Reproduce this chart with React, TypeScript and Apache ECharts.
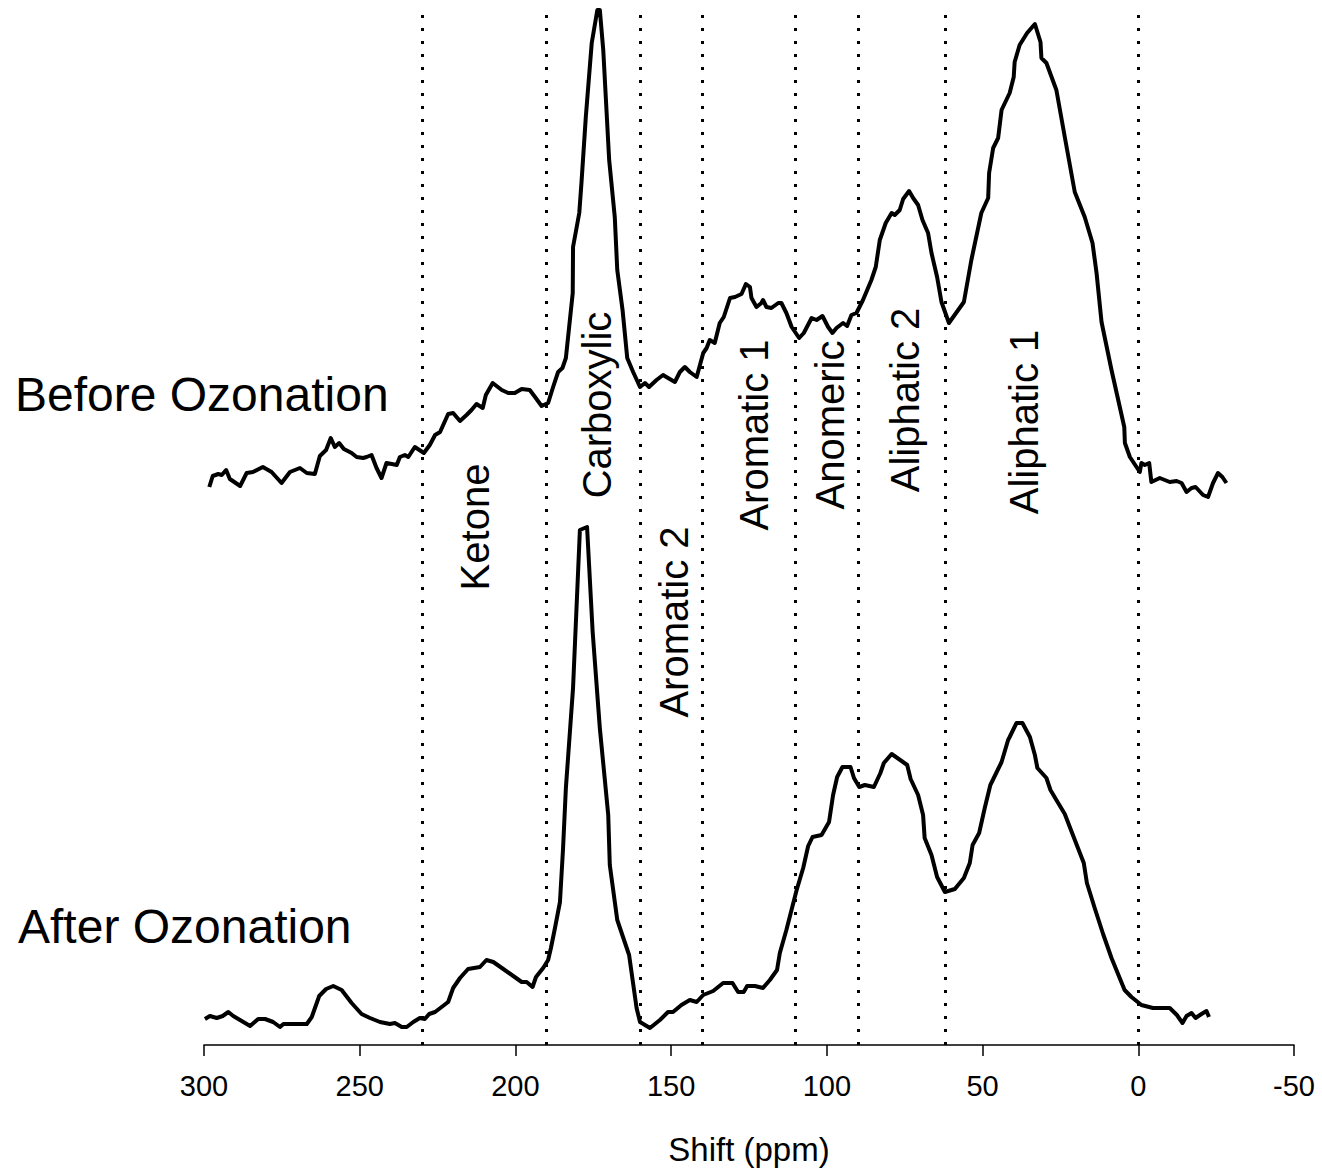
import React, { useEffect, useRef } from "react";
import * as echarts from "echarts";

// Chemical shift (ppm) and intensity (arbitrary units)
const beforeShift = [
  298.3, 297.2, 295.4, 294.3, 292.9, 291.7, 288.4, 286.3, 284.3, 281.1, 278.3, 275.1, 272.4, 269.2, 267.0, 264.4,
  262.8, 260.8, 259.3, 258.0, 256.6, 255.1, 252.6, 251.0, 248.9, 247.8, 246.2, 244.6, 243.0, 241.4, 239.7, 238.1,
  237.1, 235.5, 234.4, 232.3, 229.4, 227.5, 225.8, 224.2, 221.6, 220.0, 217.8, 215.7, 214.1, 212.5, 210.5, 209.5,
  207.3, 204.4, 202.3, 200.2, 198.0, 195.4, 193.7, 191.6, 189.5, 187.9, 186.3, 184.9, 183.8, 181.6, 181.5, 179.5,
  178.8, 177.4, 175.5, 173.7, 172.9, 171.8, 169.9, 168.1, 167.3, 165.6, 164.1, 162.2, 160.0, 158.4, 157.1, 154.7,
  152.6, 151.0, 148.8, 147.2, 145.6, 144.0, 141.8, 139.7, 138.6, 137.6, 136.0, 134.4, 133.1, 131.1, 129.5, 127.4,
  126.0, 124.7, 124.2, 122.6, 121.0, 120.5, 119.4, 117.8, 115.6, 114.6, 113.0, 111.3, 108.9, 107.4, 104.9, 103.3,
  101.4, 99.6, 98.2, 96.9, 94.8, 93.5, 92.1, 90.5, 88.4, 85.7, 84.3, 83.0, 81.1, 79.2, 78.2, 76.6,
  75.5, 73.6, 72.3, 70.7, 69.3, 67.5, 66.4, 64.6, 63.2, 60.8, 56.0, 53.6, 50.4, 48.2, 47.9, 46.6,
  45.0, 43.9, 41.3, 40.0, 39.7, 38.1, 35.7, 33.2, 31.4, 31.1, 29.5, 26.3, 23.6, 20.4, 17.2, 14.7,
  13.4, 11.8, 8.6, 4.5, 4.3, 2.7, -0.5, -1.0, -2.1, -3.5, -4.2, -6.9, -10.1, -12.3, -13.9, -15.5,
  -17.1, -18.4, -20.8, -22.4, -24.0, -25.6, -27.0, -28.3,
];
const beforeIntensity = [
  558, 569, 571, 570, 575, 566, 559, 572, 573, 578, 573, 562, 573, 577, 572, 571,
  589, 595, 607, 598, 602, 596, 592, 588, 587, 588, 590, 577, 567, 582, 581, 580,
  588, 590, 588, 598, 592, 600, 610, 613, 631, 632, 624, 630, 635, 641, 637, 650,
  662, 655, 652, 652, 656, 655, 648, 639, 642, 658, 673, 677, 687, 752, 798, 832,
  862, 928, 1002, 1035, 1035, 995, 885, 828, 775, 735, 687, 673, 658, 662, 658, 665,
  670, 667, 663, 673, 678, 673, 668, 692, 697, 705, 702, 722, 728, 747, 748, 751,
  761, 758, 747, 738, 742, 745, 738, 737, 742, 742, 732, 718, 707, 712, 727, 725,
  729, 718, 712, 717, 722, 719, 730, 732, 745, 765, 778, 805, 822, 832, 830, 835,
  846, 854, 847, 840, 825, 812, 792, 768, 743, 722, 743, 785, 832, 847, 872, 897,
  907, 935, 952, 968, 983, 1000, 1012, 1021, 1003, 987, 982, 955, 908, 853, 828, 802,
  772, 723, 675, 618, 602, 588, 573, 582, 580, 582, 563, 567, 563, 564, 562, 553,
  557, 558, 550, 548, 562, 572, 568, 562,
];
const afterShift = [
  299.7, 298.1, 295.9, 294.0, 292.2, 290.6, 287.9, 285.2, 282.6, 280.4, 277.8, 275.6, 274.5, 267.0, 265.4, 263.0,
  260.8, 258.5, 255.8, 252.6, 249.4, 246.7, 243.5, 240.3, 238.7, 236.5, 234.9, 232.8, 230.7, 229.1, 227.7, 225.8,
  223.7, 221.6, 220.0, 217.8, 215.2, 211.4, 209.3, 207.1, 203.9, 200.7, 198.0, 196.4, 194.5, 193.4, 191.1, 189.5,
  188.6, 187.3, 185.7, 184.7, 183.8, 181.5, 179.3, 177.0, 175.2, 172.9, 170.2, 169.7, 167.3, 163.5, 161.1, 160.0,
  156.8, 153.6, 151.0, 149.4, 146.7, 144.0, 141.8, 139.7, 136.5, 133.3, 130.3, 128.5, 126.7, 125.6, 123.1, 120.5,
  118.3, 116.0, 115.1, 113.0, 109.7, 107.6, 106.0, 104.6, 101.7, 99.3, 98.0, 96.7, 95.0, 92.4, 91.3, 89.6,
  87.8, 84.9, 82.8, 81.7, 79.2, 74.2, 73.1, 70.7, 69.1, 68.6, 66.4, 64.6, 62.1, 58.9, 56.0, 54.1,
  53.2, 51.1, 49.3, 47.5, 43.9, 41.8, 41.3, 39.1, 37.2, 34.8, 33.2, 32.4, 29.5, 28.2, 26.3, 23.6,
  21.0, 17.5, 16.5, 14.0, 11.3, 8.6, 4.4, 2.2, -1.0, -4.7, -10.1, -12.4, -14.2, -15.5, -17.1, -18.4,
  -20.3, -21.9, -22.7,
];
const afterIntensity = [
  26, 29, 27, 29, 33, 29, 24, 19, 26, 26, 23, 18, 21, 21, 28, 49,
  56, 59, 55, 42, 31, 27, 23, 21, 22, 18, 18, 23, 27, 26, 31, 33,
  38, 43, 57, 67, 76, 78, 85, 83, 76, 69, 63, 63, 58, 68, 77, 85,
  97, 117, 143, 197, 257, 357, 515, 518, 413, 317, 230, 180, 125, 90, 37, 23,
  17, 25, 33, 33, 40, 45, 43, 50, 54, 62, 62, 53, 53, 59, 59, 57,
  65, 75, 92, 115, 155, 177, 199, 208, 210, 223, 250, 268, 278, 278, 267, 258,
  260, 258, 272, 282, 291, 280, 266, 250, 230, 207, 190, 168, 153, 156, 167, 182,
  200, 212, 237, 260, 283, 305, 308, 322, 322, 308, 290, 277, 267, 255, 245, 231,
  210, 182, 162, 137, 111, 87, 55, 48, 40, 37, 37, 30, 22, 29, 32, 27,
  31, 34, 28,
];
const regionBounds = [230, 190, 160, 140, 110, 90, 62, 0];
const regionNames = ["Ketone", "Carboxylic", "Aromatic 2", "Aromatic 1", "Anomeric", "Aliphatic 2", "Aliphatic 1"];
const regionLabelShift = [213, 173.8, 149, 123.5, 98.9, 74.9, 36.7];
const regionLabelLevel = [518, 640, 423, 610, 620, 645, 623];
const seriesNames = ["Before Ozonation", "After Ozonation"];
const xTicks = { min: -50, max: 300, interval: 50 };

const FONT = "'Liberation Sans', Arial, Helvetica, sans-serif";

export default function App() {
  const ref = useRef<HTMLDivElement>(null);
  useEffect(() => {
    if (!ref.current) return;
    const chart = echarts.init(ref.current, undefined, { renderer: "svg" });
    const toPairs = (xs: number[], ys: number[]) => xs.map((x, i) => [x, ys[i]]);
    const lineStyle = { color: "#000", width: 4, join: "round" as const };
    chart.setOption({
      animation: false,
      backgroundColor: "#fff",
      grid: { left: 204, right: 28, top: 0, bottom: 129, containLabel: false, outerBoundsMode: "none" },
      xAxis: {
        type: "value",
        inverse: true,
        min: xTicks.min,
        max: xTicks.max,
        interval: xTicks.interval,
        name: "Shift (ppm)",
        nameLocation: "middle",
        nameGap: 88,
        nameTextStyle: { fontSize: 33, color: "#000", fontFamily: FONT },
        axisLine: { lineStyle: { color: "#000", width: 1.5 } },
        axisTick: { show: true, inside: false, length: 11, lineStyle: { color: "#000", width: 1.5 } },
        axisLabel: { fontSize: 29, color: "#000", fontFamily: FONT, margin: 26 },
        splitLine: { show: false },
      },
      yAxis: { type: "value", show: false, min: 0, max: 1045 },
      series: [
        {
          type: "line",
          data: [],
          z: 1,
          markLine: {
            silent: true,
            symbol: ["none", "none"],
            label: { show: false },
            lineStyle: { color: "#000", type: [3, 10], width: 3 },
            data: regionBounds.map((b) => [{ coord: [b, 0] }, { coord: [b, 1037] }]),
          },
        },
        {
          name: seriesNames[0],
          type: "line",
          data: toPairs(beforeShift, beforeIntensity),
          showSymbol: false,
          lineStyle,
          z: 3,
        },
        {
          name: seriesNames[1],
          type: "line",
          data: toPairs(afterShift, afterIntensity),
          showSymbol: false,
          lineStyle,
          z: 3,
        },
      ],
    });
    // place text elements using the chart's own scales
    const toPx = (x: number, y: number) => chart.convertToPixel({ gridIndex: 0 }, [x, y]);
    const labels: any[] = regionNames.map((name, i) => {
      const p = toPx(regionLabelShift[i], regionLabelLevel[i]);
      return {
        type: "text",
        x: p[0],
        y: p[1],
        rotation: Math.PI / 2,
        style: {
          text: name,
          fontSize: 40,
          fontFamily: FONT,
          fill: "#000",
          textAlign: "center",
          textVerticalAlign: "middle",
        },
      };
    });
    labels.push({
      type: "text",
      left: 15,
      top: 370,
      style: { text: seriesNames[0], fontSize: 48, fontFamily: FONT, fill: "#000" },
    });
    labels.push({
      type: "text",
      left: 18,
      top: 902,
      style: { text: seriesNames[1], fontSize: 48, fontFamily: FONT, fill: "#000" },
    });
    chart.setOption({ graphic: labels });
    return () => chart.dispose();
  }, []);
  return (
    <div
      ref={ref}
      style={{ position: "absolute", left: 0, top: 0, width: 1322, height: 1174, background: "#fff" }}
    />
  );
}
